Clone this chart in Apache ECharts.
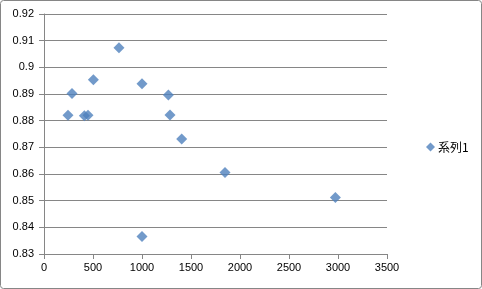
<!DOCTYPE html>
<html><head><meta charset="utf-8">
<script src="https://cdn.jsdelivr.net/npm/echarts@6/dist/echarts.min.js"></script>
<style>html,body{margin:0;padding:0;background:#fff}#c{width:482px;height:289px}</style>
</head><body><div id="c"></div>
<script>
const seriesName = '系列1';
const xValues = [245, 286, 412, 449, 504, 765, 1000, 1269, 1286, 1405, 1847, 1000, 2973];
const yValues = [0.8820, 0.8902, 0.8818, 0.8820, 0.8953, 0.9073, 0.8938, 0.8896, 0.8821, 0.8731, 0.8606, 0.8366, 0.8512];
const data = xValues.map((x, i) => [x, yValues[i]]);
const chart = echarts.init(document.getElementById('c'));
const font = 'Liberation Sans, Arial, sans-serif';
chart.setOption({
  animation: false,
  graphic: [{type:'rect', shape:{x:0.5,y:0.5,width:481,height:288,r:3}, style:{fill:'none',stroke:'#868686',lineWidth:1}}],
  grid: {left:44, right:95, top:14, bottom:35},
  legend: {
    data:[{name:seriesName, icon:'diamond'}],
    left:421, top:136, itemWidth:9, itemHeight:9, itemGap:2,
    textStyle:{fontFamily:'Noto Sans CJK JP', fontSize:12, color:'#000', padding:[0,0,0,-2]}
  },
  xAxis: {
    type:'value', min:0, max:3500, interval:500,
    axisLine:{show:true, lineStyle:{color:'#868686'}},
    axisTick:{show:true, length:5, lineStyle:{color:'#868686'}},
    axisLabel:{fontFamily:font, fontSize:11, color:'#000', margin:8, formatter:v=>String(v)},
    splitLine:{show:false}
  },
  yAxis: {
    type:'value', min:0.83, max:0.92, interval:0.01,
    axisLine:{show:true, lineStyle:{color:'#868686'}},
    axisTick:{show:true, length:5, lineStyle:{color:'#868686'}},
    axisLabel:{fontFamily:font, fontSize:11, color:'#000', margin:10, formatter:v=>String(+v.toFixed(2))},
    splitLine:{show:true, lineStyle:{color:'#868686', width:1}}
  },
  series: [{
    name:seriesName, type:'scatter', symbol:'diamond', symbolSize:11,
    itemStyle:{color:'#4F81BD'}, data:data
  }]
});
</script></body></html>
